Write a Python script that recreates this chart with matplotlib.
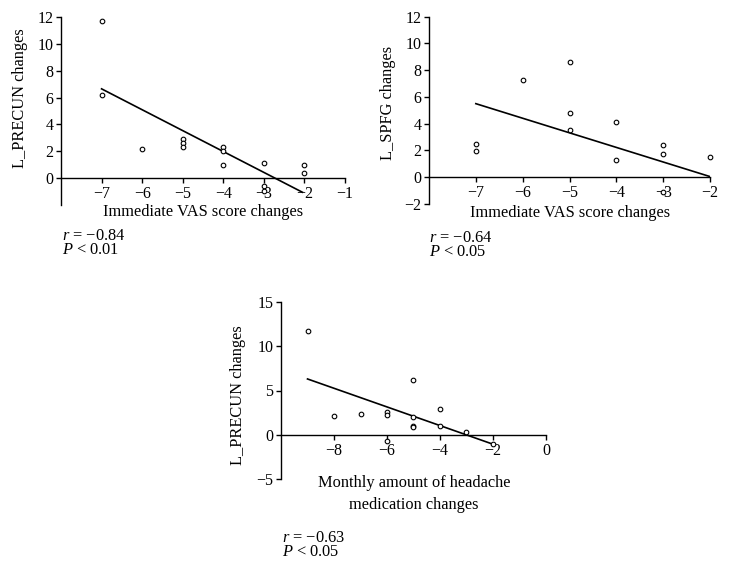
import matplotlib
matplotlib.use("Agg")
import matplotlib.pyplot as plt

# ---------------- data ----------------
# Panel A: Immediate VAS score changes vs L_PRECUN changes
vas_a = [-7, -7, -6, -5, -5, -5, -4, -4, -4, -3, -3, -3, -2, -2]
precun_a = [11.7, 6.2, 2.15, 2.9, 2.65, 2.3, 2.3, 2.05, 0.95, 1.1, -0.6, -0.95, 0.95, 0.4]
fit_a_x = [-7, -2.05]
fit_a_y = [6.65, -1.05]

# Panel B: Immediate VAS score changes vs L_SPFG changes
vas_b = [-7, -7, -6, -5, -5, -5, -4, -4, -3, -3, -3, -2]
spfg_b = [2.5, 1.95, 7.3, 8.6, 4.8, 3.55, 4.1, 1.3, 2.4, 1.7, -1.1, 1.55]
fit_b_x = [-7, -2]
fit_b_y = [5.5, 0.05]

# Panel C: Monthly amount of headache medication changes vs L_PRECUN changes
med_c = [-9, -8, -7, -6, -6, -6, -5, -5, -5, -5, -4, -4, -3, -2]
precun_c = [11.7, 2.14, 2.3, 2.6, 2.25, -0.64, 6.2, 2.0, 1.05, 0.94, 2.9, 0.97, 0.38, -0.98]
fit_c_x = [-9, -2]
fit_c_y = [6.3, -1.05]

xticks_a = [-7, -6, -5, -4, -3, -2, -1]
yticks_a = [0, 2, 4, 6, 8, 10, 12]
xticks_b = [-7, -6, -5, -4, -3, -2]
yticks_b = [-2, 0, 2, 4, 6, 8, 10, 12]
xticks_c = [-8, -6, -4, -2, 0]
yticks_c = [-5, 0, 5, 10, 15]

stats_a = "$r$ = \u22120.84\n$P$ < 0.01"
stats_b = "$r$ = \u22120.64\n$P$ < 0.05"
stats_c = "$r$ = \u22120.63\n$P$ < 0.05"

# ---------------- figure ----------------
W, H = 729, 568
plt.rcParams['font.family'] = ['Liberation Serif', 'DejaVu Serif']
plt.rcParams['mathtext.fontset'] = 'custom'
plt.rcParams['mathtext.rm'] = 'Liberation Serif'
plt.rcParams['mathtext.it'] = 'Liberation Serif:italic'
FS_TICK = 11.5
FS_LAB = 11.8
FS_STAT = 11.8

fig = plt.figure(figsize=(W / 100, H / 100), dpi=100)


def px_axes(x0, y0, x1, y1):
    return fig.add_axes([x0 / W, 1 - y1 / H, (x1 - x0) / W, (y1 - y0) / H])


def style(ax, xlim, ylim, xt, yt):
    ax.set_xlim(*xlim)
    ax.set_ylim(*ylim)
    for s in ('top', 'right'):
        ax.spines[s].set_visible(False)
    ax.spines['bottom'].set_position(('data', 0))
    for s in ('left', 'bottom'):
        ax.spines[s].set_linewidth(1.0)
        ax.spines[s].set_color('black')
    ax.set_xticks(xt)
    ax.set_yticks(yt)
    ax.tick_params(axis='both', direction='out', length=3.5, width=1.0,
                   labelsize=FS_TICK, pad=2, colors='black')
    ax.patch.set_alpha(0)


def draw(ax, x, y, fx, fy):
    ax.plot(fx, fy, color='black', lw=1.2, zorder=2)
    ax.scatter(x, y, s=11, facecolors='white', edgecolors='black',
               linewidths=0.8, zorder=3, clip_on=False)


def ftext(x, y, s, fs=FS_LAB, **kw):
    fig.text(x / W, 1 - y / H, s, fontsize=fs, **kw)


# Panel A
ax1 = px_axes(61, 17, 345, 205)
style(ax1, (-8, -1), (-2, 12), xticks_a, yticks_a)
draw(ax1, vas_a, precun_a, fit_a_x, fit_a_y)
ftext(20, 98, "L_PRECUN changes", rotation=90, ha='center', va='center')
ftext(203, 212, "Immediate VAS score changes", ha='center', va='center')
ftext(62, 243, stats_a, fs=FS_STAT, ha='left', va='center', linespacing=0.88)

# Panel B
ax2 = px_axes(429, 16.7, 710, 204)
style(ax2, (-8, -2), (-2, 12), xticks_b, yticks_b)
draw(ax2, vas_b, spfg_b, fit_b_x, fit_b_y)
ftext(388, 103, "L_SPFG changes", rotation=90, ha='center', va='center')
ftext(570, 213, "Immediate VAS score changes", ha='center', va='center')
ftext(429, 245, stats_b, fs=FS_STAT, ha='left', va='center', linespacing=0.88)

# Panel C
ax3 = px_axes(281, 301.7, 546, 479.3)
style(ax3, (-10, 0), (-5, 15), xticks_c, yticks_c)
draw(ax3, med_c, precun_c, fit_c_x, fit_c_y)
ftext(238, 395, "L_PRECUN changes", rotation=90, ha='center', va='center')
ftext(414, 494, "Monthly amount of headache\nmedication changes", ha='center',
      va='center', linespacing=1.5)
ftext(282, 545, stats_c, fs=FS_STAT, ha='left', va='center', linespacing=0.88)

fig.savefig("out.png", dpi=100)
